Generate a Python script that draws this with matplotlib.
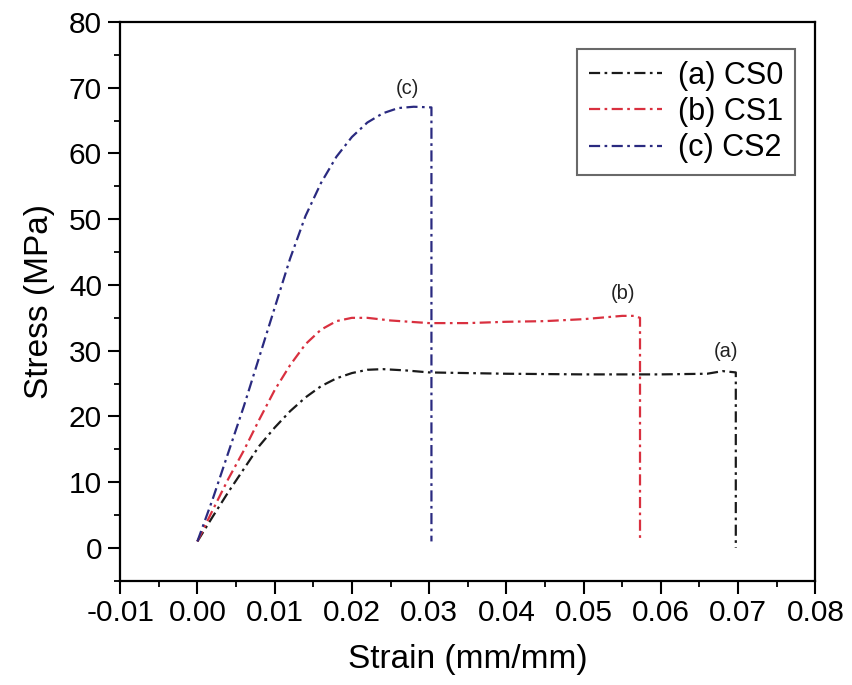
import matplotlib
matplotlib.use('agg')
import matplotlib.pyplot as plt
from matplotlib.ticker import MultipleLocator

plt.rcParams['font.family'] = ['Liberation Sans', 'DejaVu Sans']

# strain (mm/mm) and stress (MPa)
strain_cs0 = [0.0, 0.002, 0.004, 0.006, 0.008, 0.010, 0.012, 0.014, 0.016, 0.018,
              0.020, 0.022, 0.024, 0.027, 0.030, 0.035, 0.040, 0.050, 0.060, 0.066,
              0.068, 0.0697, 0.0697]
stress_cs0 = [1.0, 4.8, 8.5, 12.0, 15.5, 18.3, 20.8, 22.9, 24.6, 25.8,
              26.6, 27.1, 27.2, 27.0, 26.7, 26.6, 26.5, 26.4, 26.4, 26.5,
              26.9, 26.7, 0.0]

strain_cs1 = [0.0, 0.002, 0.004, 0.006, 0.008, 0.010, 0.012, 0.014, 0.016, 0.018,
              0.020, 0.022, 0.025, 0.030, 0.035, 0.040, 0.045, 0.050, 0.055, 0.0565,
              0.0573, 0.0573]
stress_cs1 = [1.0, 5.8, 10.5, 14.8, 19.5, 24.0, 27.8, 31.0, 33.2, 34.5,
              35.0, 35.0, 34.6, 34.2, 34.2, 34.4, 34.5, 34.8, 35.3, 35.3,
              35.0, 1.0]

strain_cs2 = [0.0, 0.002, 0.004, 0.006, 0.008, 0.010, 0.012, 0.014, 0.016, 0.018,
              0.020, 0.022, 0.024, 0.026, 0.028, 0.0303, 0.0303]
stress_cs2 = [1.0, 7.5, 14.5, 21.5, 29.0, 36.5, 44.0, 50.5, 55.5, 59.5,
              62.5, 64.7, 66.1, 66.9, 67.1, 67.0, 1.0]

labels = ['(a) CS0', '(b) CS1', '(c) CS2']
tags = ['(a)', '(b)', '(c)']
tag_pos = [(0.0684, 28.4), (0.0551, 37.2), (0.0272, 68.4)]

fig = plt.figure(figsize=(8.52, 6.85), dpi=100)
ax = fig.add_axes([0.141, 0.152, 0.816, 0.816])

style = (0, (5, 2, 1.2, 2))
ax.plot(strain_cs0, stress_cs0, color='#1a1a1a', ls=style, lw=1.6, label=labels[0])
ax.plot(strain_cs1, stress_cs1, color='#d9303f', ls=style, lw=1.6, label=labels[1])
ax.plot(strain_cs2, stress_cs2, color='#2a2a80', ls=style, lw=1.6, label=labels[2])

for t, (x, y) in zip(tags, tag_pos):
    ax.text(x, y, t, fontsize=14.5, ha='center', va='bottom', color='#222222')

ax.set_xlim(-0.01, 0.08)
ax.set_ylim(-5, 80)
ax.xaxis.set_minor_locator(MultipleLocator(0.005))
ax.yaxis.set_major_locator(MultipleLocator(10))
ax.yaxis.set_minor_locator(MultipleLocator(5))
ax.set_xticks([i / 100 for i in range(-1, 9)])
ax.set_xticklabels(['%.2f' % (i / 100) for i in range(-1, 9)])
ax.tick_params(which='major', direction='out', length=9, width=1.5, labelsize=21.5, pad=4)
ax.tick_params(which='minor', direction='out', length=4, width=1.3)
for s in ax.spines.values():
    s.set_linewidth(1.6)

ax.set_xlabel('Strain (mm/mm)', fontsize=24, labelpad=12)
ax.set_ylabel('Stress (MPa)', fontsize=24, labelpad=10)

leg = ax.legend(loc='upper right', bbox_to_anchor=(0.971, 0.952), fontsize=22,
                frameon=True, fancybox=False, edgecolor='#444444', handlelength=2.4,
                borderaxespad=0.0, labelspacing=0.2, handletextpad=0.5, borderpad=0.4)
leg.get_frame().set_linewidth(1.5)

plt.savefig('out.png', dpi=100)
